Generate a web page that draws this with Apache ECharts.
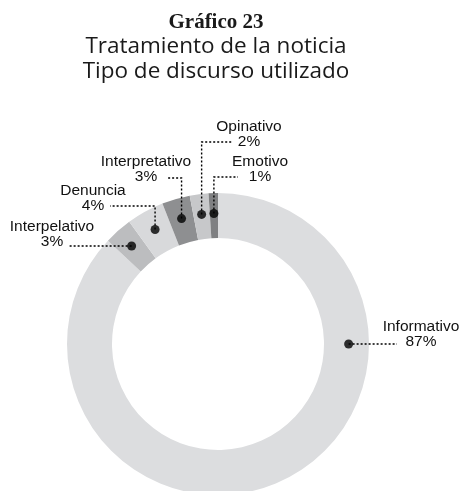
<!DOCTYPE html>
<html>
<head>
<meta charset="utf-8">
<title>Gráfico 23</title>
<script src="https://cdn.jsdelivr.net/npm/echarts@6/dist/echarts.min.js"></script>
<style>
  html, body { margin: 0; padding: 0; background: #fff; }
  #main { width: 463px; height: 491px; }
</style>
</head>
<body>
<div id="main"></div>
<script>
const categories = ['Informativo', 'Interpelativo', 'Denuncia', 'Interpretativo', 'Opinativo', 'Emotivo'];
const percentages = [87, 3, 4, 3, 2, 1];
const sliceColors = ['#dcdddf', '#bcbdbf', '#d8d9db', '#8e8f91', '#c7c8ca', '#7f8082'];
const titleText = 'Gráfico 23';
const subtitleLines = ['Tratamiento de la noticia', 'Tipo de discurso utilizado'];

// where each callout text sits, and where its dotted leader ends (px)
// lineY null -> leader runs straight out from the dot
const calloutLayout = [
  { cx: 421, nameY: 327, pctY: 342, endX: 397, lineY: null },
  { cx: 52,  nameY: 227, pctY: 242, endX: 68,  lineY: null },
  { cx: 93,  nameY: 191, pctY: 206, endX: 110, lineY: 206 },
  { cx: 146, nameY: 162, pctY: 177, endX: 167, lineY: 178 },
  { cx: 249, nameY: 127, pctY: 142, endX: 232, lineY: 142 },
  { cx: 260, nameY: 162, pctY: 177, endX: 238, lineY: 177 }
];

const center = [218, 344];
const labelFont = '15.5px "Liberation Sans", Arial, sans-serif';

// dot sits mid-ring at the middle of its slice (Informativo is called out at 3 o'clock)
const dotRadius = 0.865;
let acc = 0;
const dotAngles = percentages.map(function (v) {
  const mid = acc + v / 2;
  acc += v;
  return mid;
});
dotAngles[0] = 25;

let myChart = echarts.init(document.getElementById('main'));

myChart.setOption({
  animation: false,
  title: {
    text: titleText,
    subtext: subtitleLines.join('\n'),
    left: 211,
    top: 7,
    textAlign: 'center',
    itemGap: 1,
    textStyle: {
      fontFamily: '"Liberation Serif", serif',
      fontWeight: 'bold',
      fontSize: 21,
      color: '#1a1a1a'
    },
    subtextStyle: {
      fontFamily: '"Open Sans", sans-serif',
      fontSize: 22.5,
      lineHeight: 25,
      color: '#1a1a1a'
    }
  },
  polar: { center: center, radius: 151 },
  angleAxis: { type: 'value', min: 0, max: 100, startAngle: 90, clockwise: true, show: false },
  radiusAxis: { type: 'value', min: 0, max: 1, show: false },
  series: [
    {
      type: 'pie',
      center: center,
      radius: [106, 151],
      startAngle: 90,
      clockwise: true,
      silent: true,
      label: { show: false },
      labelLine: { show: false },
      itemStyle: { borderWidth: 0 },
      data: categories.map(function (name, i) {
        return { name: name, value: percentages[i], itemStyle: { color: sliceColors[i] } };
      })
    },
    {
      type: 'scatter',
      coordinateSystem: 'polar',
      symbol: 'circle',
      symbolSize: 9,
      silent: true,
      z: 5,
      itemStyle: { color: '#000' },
      data: dotAngles.map(function (a) { return [dotRadius, a]; })
    }
  ]
});

// dotted callouts, anchored on the dots the library placed
const graphics = [];
dotAngles.forEach(function (a, i) {
  const p = myChart.convertToPixel({ seriesIndex: 1 }, [dotRadius, a]);
  const L = calloutLayout[i];
  const ly = L.lineY == null ? p[1] : L.lineY;
  graphics.push({
    type: 'polyline',
    silent: true,
    z: 4,
    shape: { points: [[p[0], p[1]], [p[0], ly], [L.endX, ly]] },
    style: { fill: null, stroke: '#000', lineWidth: 1.4, lineDash: [2, 2] }
  });
  graphics.push({
    type: 'text',
    silent: true,
    style: {
      text: categories[i], x: L.cx, y: L.nameY,
      font: labelFont, fill: '#111', align: 'center', verticalAlign: 'middle'
    }
  });
  graphics.push({
    type: 'text',
    silent: true,
    style: {
      text: percentages[i] + '%', x: L.cx, y: L.pctY,
      font: labelFont, fill: '#111', align: 'center', verticalAlign: 'middle'
    }
  });
});
myChart.setOption({ graphic: graphics });
</script>
</body>
</html>
